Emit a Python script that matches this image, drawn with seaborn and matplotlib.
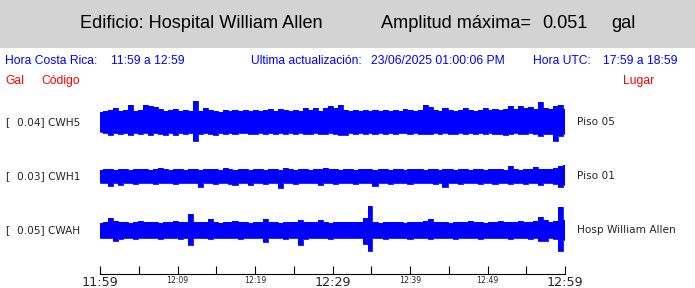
import numpy as np
import pandas as pd
import matplotlib
matplotlib.use("Agg")
import matplotlib.pyplot as plt
import seaborn as sns
from matplotlib.patches import Rectangle

# ---------------- data ----------------
stations = ["CWH5", "CWH1", "CWAH"]
places = ["Piso 05", "Piso 01", "Hosp William Allen"]
peak_gal = ["0.04", "0.03", "0.05"]
tick_minutes = [0, 5, 10, 15, 20, 25, 30, 35, 40, 45, 50, 55, 60]
tick_labels = ["11:59", "", "12:09", "", "12:19", "", "12:29", "", "12:39", "", "12:49", "", "12:59"]
big_labels = ["11:59", "12:29", "12:59"]

# envelope of each trace (upper / lower excursion, relative units), 94 samples over 60 min
cwh5_up = [10, 11, 12, 14, 11, 12, 17, 11, 12, 17, 16, 15, 13, 11, 12, 13, 11, 12, 11, 21,
           11, 14, 12, 11, 10, 12, 11, 12, 11, 12, 11, 12, 11, 12, 13, 11, 13, 12, 11, 12,
           11, 14, 12, 14, 11, 14, 16, 14, 17, 12, 11, 12, 11, 12, 11, 12, 11, 12, 11, 12,
           11, 13, 12, 11, 12, 17, 15, 12, 11, 14, 12, 11, 12, 14, 12, 11, 12, 14, 12, 13,
           12, 13, 16, 13, 16, 14, 15, 13, 20, 14, 13, 16, 17, 13]
cwh5_lo = [10, 11, 13, 11, 12, 11, 13, 11, 12, 11, 13, 11, 12, 13, 11, 13, 11, 12, 11, 19,
           12, 11, 12, 13, 11, 12, 11, 12, 11, 11, 12, 12, 11, 12, 11, 12, 11, 12, 11, 12,
           11, 12, 12, 11, 12, 12, 11, 12, 13, 13, 11, 12, 11, 12, 11, 12, 11, 12, 11, 12,
           11, 11, 12, 11, 12, 12, 12, 11, 12, 11, 12, 12, 11, 12, 11, 12, 11, 12, 11, 12,
           12, 13, 12, 11, 12, 12, 11, 12, 14, 12, 12, 19, 14, 12]
cwh1_up = [6, 7, 7, 6, 7, 7, 6, 7, 7, 7, 6, 7, 8, 7, 6, 7, 7, 6, 7, 7,
           6, 7, 7, 7, 6, 8, 7, 6, 7, 7, 6, 7, 7, 6, 7, 7, 6, 8, 7, 6,
           7, 7, 6, 7, 7, 8, 7, 7, 6, 7, 7, 6, 7, 7, 7, 6, 7, 7, 6, 7,
           7, 6, 7, 7, 7, 6, 7, 7, 6, 7, 7, 6, 7, 7, 6, 7, 7, 6, 7, 7,
           7, 6, 10, 7, 6, 7, 7, 9, 7, 7, 7, 8, 10, 11]
cwh1_lo = [7, 7, 10, 7, 9, 7, 7, 8, 7, 7, 7, 8, 7, 7, 7, 8, 7, 7, 7, 7,
           11, 7, 7, 8, 7, 7, 8, 9, 7, 7, 9, 7, 7, 8, 7, 7, 12, 7, 7, 8,
           7, 7, 7, 7, 9, 7, 7, 8, 7, 7, 7, 8, 7, 7, 7, 10, 7, 7, 8, 7,
           7, 7, 8, 7, 7, 7, 7, 8, 7, 11, 7, 7, 8, 7, 7, 7, 8, 7, 7, 8,
           7, 7, 8, 7, 7, 8, 7, 7, 9, 7, 7, 8, 11, 9]
cwah_up = [7, 8, 12, 9, 8, 8, 7, 8, 9, 8, 8, 8, 7, 8, 8, 9, 8, 8, 16, 8,
           8, 8, 11, 8, 7, 8, 8, 9, 8, 8, 7, 8, 8, 11, 8, 8, 7, 8, 8, 8,
           10, 8, 8, 8, 10, 8, 7, 8, 8, 8, 8, 8, 8, 12, 24, 8, 7, 8, 8, 8,
           8, 7, 8, 8, 8, 9, 11, 8, 8, 8, 7, 8, 8, 8, 9, 8, 8, 7, 8, 8,
           9, 8, 8, 8, 9, 8, 8, 9, 13, 10, 8, 9, 23, 10]
cwah_lo = [8, 8, 8, 11, 9, 8, 8, 9, 8, 8, 8, 8, 9, 8, 8, 8, 9, 8, 15, 8,
           8, 8, 9, 8, 8, 8, 8, 8, 9, 8, 8, 8, 8, 12, 8, 8, 8, 9, 8, 8,
           15, 9, 8, 8, 8, 8, 9, 8, 8, 8, 8, 8, 8, 14, 21, 8, 8, 9, 8, 8,
           8, 8, 9, 8, 8, 8, 9, 8, 8, 8, 8, 9, 8, 8, 8, 8, 9, 8, 8, 8,
           8, 8, 9, 8, 8, 8, 9, 8, 11, 11, 8, 9, 21, 10]

ups = [cwh5_up, cwh1_up, cwah_up]
los = [cwh5_lo, cwh1_lo, cwah_lo]

# ---------------- figure ----------------
W, H = 695, 288
sns.set_style("white")
plt.rcParams["font.family"] = ["DejaVu Sans"]
fig = plt.figure(figsize=(W / 100, H / 100), dpi=100)
fig.patch.set_facecolor("white")

def fx(px):
    return px / W

def fy(py):
    return 1 - py / H

# header band
fig.patches.append(Rectangle((0, fy(48)), 1, 48 / H, transform=fig.transFigure,
                             facecolor="#d3d3d3", edgecolor="none", zorder=0))
hfont = dict(family="Liberation Sans", fontsize=13.1, color="black", va="center")
fig.text(fx(80), fy(23), "Edificio: Hospital William Allen", **hfont)
fig.text(fx(381), fy(23), "Amplitud máxima=", **hfont)
fig.text(fx(542), fy(23), "0.051", **hfont)
fig.text(fx(611), fy(23), "gal", **hfont)

bfont = dict(family="Liberation Sans", fontsize=8.7, color="#0000ff", va="center")
fig.text(fx(5), fy(61), "Hora Costa Rica:", **bfont)
fig.text(fx(111), fy(61), "11:59 a 12:59", **bfont)
fig.text(fx(251), fy(61), "Ultima actualización:", **bfont)
fig.text(fx(371), fy(61), "23/06/2025 01:00:06 PM", **bfont)
fig.text(fx(533), fy(61), "Hora UTC:", **bfont)
fig.text(fx(603), fy(61), "17:59 a 18:59", **bfont)

rfont = dict(family="Liberation Sans", fontsize=8.7, color="#ff0000", va="center")
fig.text(fx(5), fy(81), "Gal", **rfont)
fig.text(fx(41), fy(81), "Código", **rfont)
fig.text(fx(623), fy(81), "Lugar", **rfont)

# trace axes: x in minutes, y in vertical layout units (pixels from top)
top_px, bot_px = 95, 274
ax = fig.add_axes([fx(100), fy(bot_px), fx(565) - fx(100), (bot_px - top_px) / H])
ax.set_facecolor("none")
centers = [122, 176, 230]
t = np.arange(94) * 60 / 93

for k, (u, l) in enumerate(zip(ups, los)):
    df = pd.DataFrame({"t": t,
                       "top": centers[k] - np.array(u, float),
                       "bot": centers[k] + np.array(l, float)})
    ax.fill_between(df["t"], df["top"], df["bot"], color="#0000ff", linewidth=0,
                    step="mid")
    sns.lineplot(data=df, x="t", y="top", ax=ax, color="#0000ff", linewidth=0.6,
                 drawstyle="steps-mid")
    sns.lineplot(data=df, x="t", y="bot", ax=ax, color="#0000ff", linewidth=0.6,
                 drawstyle="steps-mid")

ax.set_xlim(0, 60)
ax.set_ylim(bot_px, top_px)
ax.set_xlabel("")
ax.set_ylabel("")
ax.set_yticks([])
for s in ["left", "top", "right"]:
    ax.spines[s].set_visible(False)
ax.spines["bottom"].set_color("black")
ax.spines["bottom"].set_linewidth(0.8)
ax.set_xticks(tick_minutes, tick_labels)
ax.tick_params(axis="x", direction="in", length=6, width=0.8, color="black",
               pad=1.5, bottom=True)
for lab in ax.get_xticklabels():
    if lab.get_text() in big_labels:
        lab.set_fontsize(9.2)
    else:
        lab.set_fontsize(5.6)
    lab.set_family("DejaVu Sans")

# left / right labels
for k in range(3):
    yy = fy(centers[k])
    fig.text(fx(5), yy, "[", fontsize=7.6, va="center", family="DejaVu Sans")
    fig.text(fx(17), yy, f"{peak_gal[k]}] {stations[k]}", fontsize=7.6, va="center",
             family="DejaVu Sans")
    fig.text(fx(577), yy, places[k], fontsize=7.6, va="center", family="DejaVu Sans")

fig.savefig("out.png", dpi=100, facecolor="white")
